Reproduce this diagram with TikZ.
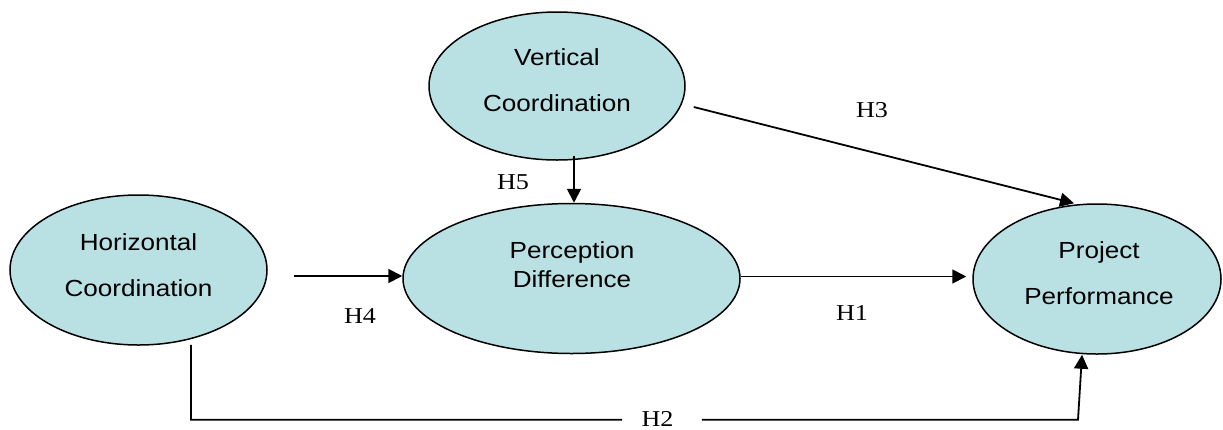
\documentclass[tikz,border=0pt]{standalone}
\usepackage{fontspec}
\setmainfont{Liberation Serif}[FakeStretch=1.15]
\newfontfamily\ellfont{Liberation Sans}[FakeStretch=1.12]
\usetikzlibrary{shapes.geometric,arrows.meta,calc}
\definecolor{cfill}{RGB}{185,224,227}
\begin{document}
\begin{tikzpicture}[x=1pt,y=-1pt,
  ell/.style={ellipse,draw=black,line width=1.5pt,fill=cfill,inner sep=0pt},
  etext/.style={align=center,font=\ellfont\fontsize{23.3}{46}\selectfont,inner sep=0pt},
  hlab/.style={font=\fontsize{22.7}{27}\selectfont,inner sep=0pt},
  conn/.style={line width=1.8pt},
  arr/.style={conn,-{Triangle[length=14pt,width=14pt]}}]
\useasboundingbox (0,0) rectangle (1223,429);
% ellipses
\node[ell,minimum width=256pt,minimum height=148pt] (vc) at (557,86) {};
\node[ell,minimum width=257pt,minimum height=150pt] (hc) at (138.5,270) {};
\node[ell,minimum width=337pt,minimum height=150pt] (pd) at (571.5,278.5) {};
\node[ell,minimum width=248pt,minimum height=150pt] (pp) at (1097,279) {};
% texts
\node[etext] (vct) at ($(vc)+(0,-6)$) {Vertical\\Coordination};
\node[etext] (hct) at ($(hc)+(0,-5)$) {Horizontal\\Coordination};
\node[etext,font=\ellfont\fontsize{23.3}{29}\selectfont] (pdt) at ($(pd)+(0.5,-14)$) {Perception\\Difference};
\node[etext] (ppt) at ($(pp)+(2,-6)$) {Project\\Performance};
% H4
\coordinate (h4s) at ($(hc.east)+(26,6)$);
\draw[arr] (h4s) -- (h4s -| pd.west);
% H5
\coordinate (h5s) at ($(vc.south)+(17,-5)$);
\draw[arr] (h5s) -- (h5s |- pd.north);
% H1
\coordinate (h1s) at ($(pd.east)+(0,-2)$);
\coordinate (h1e) at ($(pp.west)+(-6,0)$);
\draw[arr] (h1s) -- (h1s -| h1e);
% H3
\coordinate (h3s) at ($(vc.east)+(8,21)$);
\coordinate (h3e) at ($(pp.north)+(-23,0)$);
\draw[arr] (h3s) -- (h3e);
% H2
\coordinate (h2s) at ($(hc.south)+(52.5,-1)$);
\coordinate (h2e) at ($(pp.south)+(-15,0)$);
\coordinate (h2c) at ($(h2e)+(-4,65)$);
\coordinate (h2a) at (h2s |- h2c);
\draw[conn] (h2s) -- (h2a) -- ($(h2a)!0.486!(h2c)$);
\draw[arr] ($(h2a)!0.576!(h2c)$) -- (h2c) -- (h2e);
% labels
\node[hlab] (h4) at (360,316) {H4};
\node[hlab] (h5) at (513,182) {H5};
\node[hlab] (h1) at (852,313) {H1};
\node[hlab] (h3) at (872,110) {H3};
\node[hlab] (h2) at ($(h2a)!0.526!(h2c)+(0,-1)$) {H2};
\end{tikzpicture}
\end{document}
